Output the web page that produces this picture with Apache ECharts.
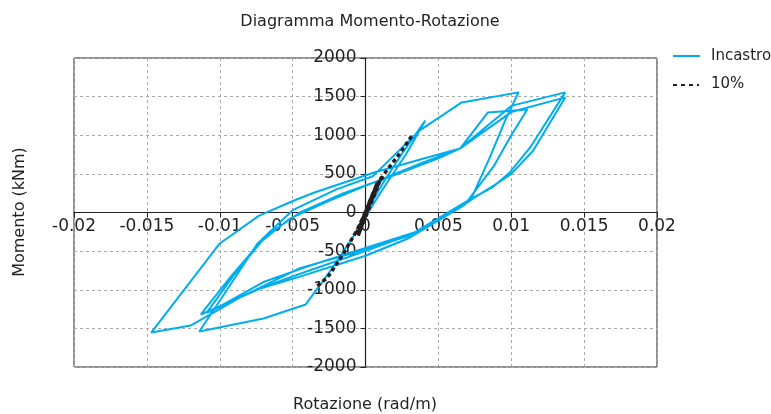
<!DOCTYPE html>
<html>
<head>
<meta charset="utf-8">
<script src="https://cdn.jsdelivr.net/npm/echarts@6/dist/echarts.min.js"></script>
<style>
  html, body { margin: 0; padding: 0; background: #fff; }
  #chart { width: 771px; height: 414px; }
</style>
</head>
<body>
<div id="chart"></div>
<script>
// Axis ranges and ticks
const xTicks = [-0.02, -0.015, -0.01, -0.005, 0, 0.005, 0.01, 0.015, 0.02];
const yTicks = [-2000, -1500, -1000, -500, 0, 500, 1000, 1500, 2000];

// Cyclic test, moment vs rotation (rad/m, kNm)
const incastroRot = [
  0, 0.0012, 0.0025, 0.0041, 0.0028, 0.0010, -0.0008, -0.0022, -0.0041,
  -0.0070, -0.0114, -0.0095, -0.0074, -0.0050, -0.0020, 0.0005, 0.0037, 0.0066, 0.0105,
  0.0096, 0.0085, 0.0072, 0.0033, 0.0000, -0.0040, -0.0068, -0.0113,
  -0.0092, -0.0072, -0.0052, -0.0025, 0.0002, 0.0040, 0.0065, 0.0084, 0.0111,
  0.0100, 0.0088, 0.0068, 0.0030, 0.0000, -0.0045, -0.0075, -0.0109,
  -0.0090, -0.0068, -0.0045, -0.0015, 0.0015, 0.0050, 0.0065, 0.0100, 0.0137,
  0.0113, 0.0099, 0.0087, 0.0070, 0.0030, 0.0000, -0.0045, -0.0086, -0.0120, -0.0147,
  -0.0100, -0.0073, -0.0049, -0.0035, 0.0006, 0.0040, 0.0065, 0.0100, 0.0137,
  0.0115, 0.0100, 0.0089, 0.0072, 0.0035, 0.0000, -0.0040, -0.0070, -0.0107
];
const incastroMom = [
  0, 380, 760, 1190, 760, 250, -300, -700, -1190,
  -1373, -1540, -1000, -400, 30, 300, 470, 1060, 1425, 1555,
  1200, 700, 155, -270, -500, -760, -950, -1320,
  -820, -380, -80, 150, 360, 650, 830, 1295, 1334,
  1000, 600, 100, -330, -560, -830, -1000, -1300,
  -800, -300, 0, 250, 450, 700, 830, 1380, 1555,
  842, 518, 324, 150, -300, -480, -720, -1100, -1463, -1554,
  -401, -40, 155, 259, 518, 700, 830, 1300, 1490,
  800, 500, 360, 160, -250, -460, -700, -900, -1290
];

// 10% curve (many small cycles near the origin)
const dieciRot = [
  -0.0033, -0.0026, -0.0015, -0.0006, 0.0000, 0.0006, -0.0004, 0.0008, -0.0006,
  0.0004, -0.0002, 0.0009, -0.0003, 0.0011, -0.0005, 0.0007, -0.0001,
  0.00045, 0.0013, 0.0024, 0.0032
];
const dieciMom = [
  -950, -840, -530, -233, 0, 280, -200, 380, -260,
  180, -90, 400, -150, 460, -300, 330, -40,
  220, 505, 777, 997
];

const pairs = (xs, ys) => xs.map((x, i) => [x, ys[i]]);

const FONT = 'DejaVu Sans';
const INK = '#231f20';
const BLUE = '#00aeef';

// plot area box
const G = { left: 74, right: 114, top: 58, bottom: 47, w: 771, h: 414 };
const plotW = G.w - G.left - G.right;
const plotH = G.h - G.top - G.bottom;
// axes cross at the origin, in the middle of the box
const xAxisOffset = -plotH * (0 - yTicks[0]) / (yTicks[yTicks.length - 1] - yTicks[0]);
const yAxisOffset = -plotW * (0 - xTicks[0]) / (xTicks[xTicks.length - 1] - xTicks[0]);

const chart = echarts.init(document.getElementById('chart'), null, { renderer: 'canvas' });

chart.setOption({
  animation: false,
  backgroundColor: '#ffffff',
  textStyle: { fontFamily: FONT, color: INK },
  title: {
    text: 'Diagramma Momento-Rotazione',
    left: 365, top: 9, textAlign: 'center',
    textStyle: { fontFamily: FONT, fontSize: 16, fontWeight: 'normal', color: INK }
  },
  grid: {
    left: G.left, right: G.right, top: G.top, bottom: G.bottom,
    show: true, borderColor: INK, borderWidth: 1,
    backgroundColor: 'transparent'
  },
  xAxis: {
    type: 'value', position: 'bottom', offset: xAxisOffset,
    min: xTicks[0], max: xTicks[xTicks.length - 1], interval: 0.005,
    axisLine: { onZero: false, lineStyle: { color: INK, width: 1.2 } },
    axisTick: { show: true, length: 5, lineStyle: { color: INK } },
    axisLabel: {
      margin: 6, fontSize: 17, color: INK, fontFamily: FONT,
      showMinLabel: true, showMaxLabel: true,
      formatter: v => String(+v.toFixed(3))
    },
    splitLine: { show: true, lineStyle: { color: '#aaaaaa', type: [3, 3], width: 1 } }
  },
  yAxis: {
    type: 'value', position: 'left', offset: yAxisOffset,
    min: yTicks[0], max: yTicks[yTicks.length - 1], interval: 500,
    axisLine: { onZero: false, lineStyle: { color: INK, width: 1.2 } },
    axisTick: { show: true, length: 5, lineStyle: { color: INK } },
    axisLabel: {
      margin: 9, fontSize: 17, color: INK, fontFamily: FONT,
      formatter: v => String(v)
    },
    splitLine: { show: true, lineStyle: { color: '#aaaaaa', type: [3, 3], width: 1 } }
  },
  graphic: [
    {
      type: 'text', x: 365, y: 405,
      style: { text: 'Rotazione (rad/m)', font: '16px ' + FONT, fill: INK, align: 'center', verticalAlign: 'middle' }
    },
    {
      type: 'text', x: 20, y: 212, rotation: Math.PI / 2,
      style: { text: 'Momento (kNm)', font: '16px ' + FONT, fill: INK, align: 'center', verticalAlign: 'middle' }
    },
    // legend
    {
      type: 'line', shape: { x1: 673, y1: 56, x2: 700, y2: 56 },
      style: { stroke: BLUE, lineWidth: 2 }
    },
    {
      type: 'text', x: 711, y: 56,
      style: { text: 'Incastro', font: '15px ' + FONT, fill: INK, verticalAlign: 'middle' }
    },
    {
      type: 'line', shape: { x1: 673, y1: 85, x2: 699, y2: 85 },
      style: { stroke: INK, lineWidth: 2, lineDash: [4, 4] }
    },
    {
      type: 'text', x: 711, y: 84,
      style: { text: '10%', font: '15px ' + FONT, fill: INK, verticalAlign: 'middle' }
    }
  ],
  series: [
    {
      name: 'Incastro', type: 'line',
      data: pairs(incastroRot, incastroMom),
      showSymbol: false, symbol: 'none',
      lineStyle: { color: BLUE, width: 2 },
      itemStyle: { color: BLUE },
      z: 2
    },
    {
      name: '10%', type: 'line',
      data: pairs(dieciRot, dieciMom),
      showSymbol: false, symbol: 'none',
      lineStyle: { color: INK, width: 3.5, type: [4, 3] },
      itemStyle: { color: INK },
      z: 3
    }
  ]
});
</script>
</body>
</html>
